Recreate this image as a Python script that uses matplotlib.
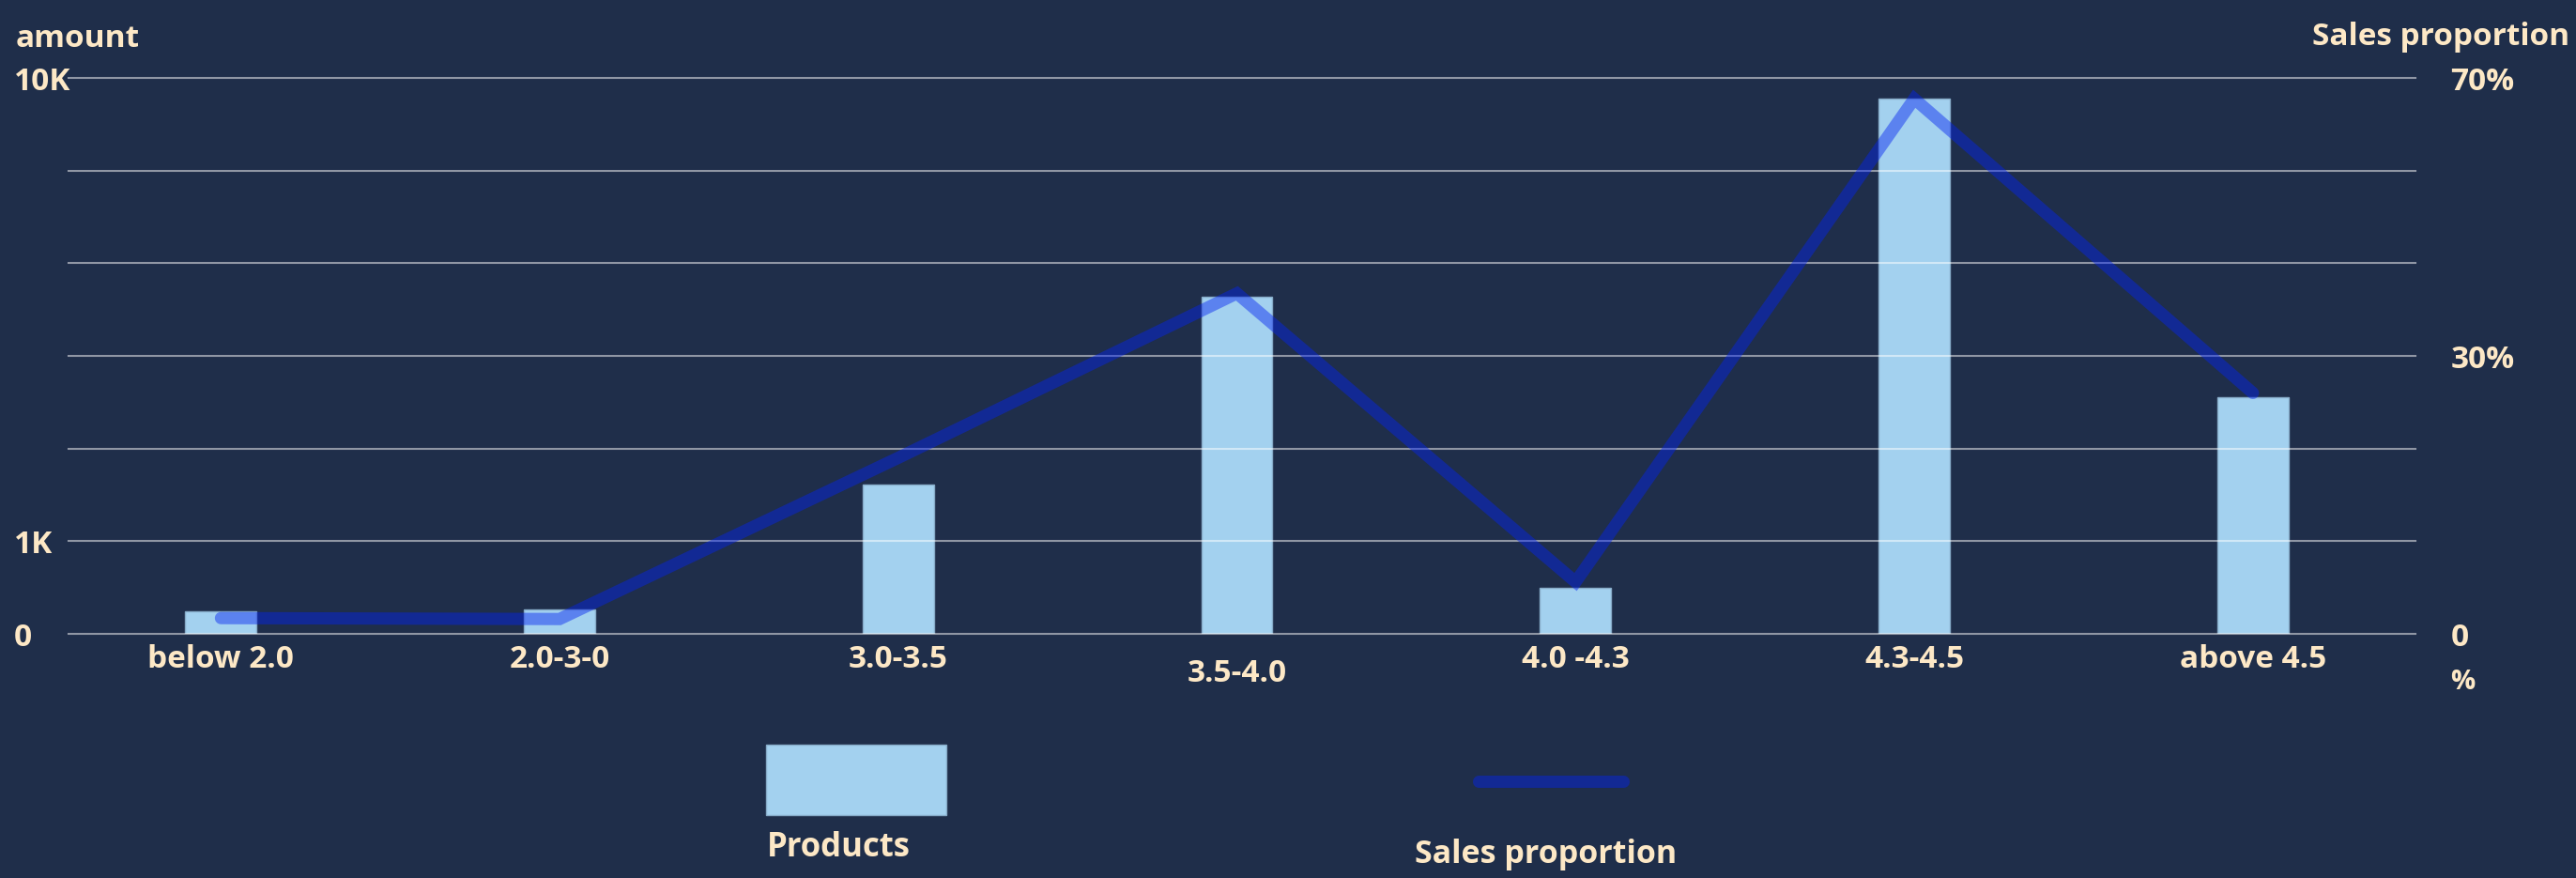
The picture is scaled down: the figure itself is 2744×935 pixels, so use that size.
import numpy as np
import matplotlib
matplotlib.use("Agg")
import matplotlib.pyplot as plt
from matplotlib.patches import Rectangle
from matplotlib.lines import Line2D

# data
categories = ["below 2.0", "2.0-3-0", "3.0-3.5", "3.5-4.0", "4.0 -4.3", "4.3-4.5", "above 4.5"]
products = [240, 260, 2100, 5750, 500, 9600, 3800]
sales_pct = [1.7, 1.6, 19, 39, 5.6, 67, 26]

left_ticks = [0, 1000, 2800, 4600, 6400, 8200, 10000]
left_labels = ["0", "1K", "", "", "", "", "10K"]
right_ticks = [0, 10, 20, 30, 43.33, 56.67, 70]
right_labels = ["0", "", "", "30%", "", "", "70%"]

bg = "#1f2e4a"
txt = "#fde8c6"
bar_c = "#a3d1ef"
line_c = "#0423f0"

plt.rcParams["font.family"] = ["Open Sans", "DejaVu Sans"]
plt.rcParams["font.weight"] = "bold"

W, H = 2744, 935
fig = plt.figure(figsize=(W / 100, H / 100), dpi=100, facecolor=bg)
ax = fig.add_axes([73 / W, 1 - 675 / H, 2500 / W, 592 / H])
ax.set_facecolor(bg)

# uneven axes: piecewise-linear mapping onto the 6 grid steps
def fwd_l(v):
    return np.interp(v, [0, 1000, 10000], [0, 1, 6])
def inv_l(v):
    return np.interp(v, [0, 1, 6], [0, 1000, 10000])
def fwd_r(v):
    return np.interp(v, [0, 30, 70], [0, 3, 6])
def inv_r(v):
    return np.interp(v, [0, 3, 6], [0, 30, 70])

ax.set_yscale("function", functions=(fwd_l, inv_l))
x = np.arange(len(categories))
ax.bar(x, products, width=0.21, color=bar_c, edgecolor="#86abc8", linewidth=1)
ax.set_xlim(-0.45, 6.48)
ax.set_ylim(0, 10000)
ax.set_yticks(left_ticks)
ax.set_yticklabels(left_labels)
ax.set_xticks(x)
ax.set_xticklabels(categories)
ax.set_axisbelow(False)
ax.grid(axis="y", color="white", alpha=0.5, linewidth=1.5)
for gl in ax.get_ygridlines():
    gl.set_clip_on(False)
ax.tick_params(axis="y", length=0, pad=42, labelsize=24, labelcolor=txt)
ax.tick_params(axis="x", length=0, pad=8, labelsize=24, labelcolor=txt)
for lab in ax.get_yticklabels():
    lab.set_ha("left")
for lab in ax.get_xticklabels():
    if lab.get_text() == "3.5-4.0":
        lab.set_y(-0.025)
for s in ax.spines.values():
    s.set_visible(False)

ax2 = ax.twinx()
ax2.set_yscale("function", functions=(fwd_r, inv_r))
ax2.plot(x, sales_pct, color=line_c, alpha=0.45, linewidth=9.4,
         solid_capstyle="round", solid_joinstyle="miter")
ax2.set_ylim(0, 70)
ax2.set_yticks(right_ticks)
ax2.set_yticklabels(right_labels)
ax2.tick_params(axis="y", length=0, pad=27, labelsize=24, labelcolor=txt)
for s in ax2.spines.values():
    s.set_visible(False)

# axis titles
fig.text(17 / W, 1 - 41 / H, "amount", color=txt, fontsize=24, va="center", ha="left")
fig.text(2737 / W, 1 - 40 / H, "Sales proportion", color=txt, fontsize=24, va="center", ha="right")
fig.text(2610 / W, 1 - 727 / H, "%", color=txt, fontsize=21, va="center", ha="left")

# legend drawn by hand, labels under the keys
fig.patches.append(Rectangle((816 / W, 1 - 868 / H), 192 / W, 75 / H, transform=fig.transFigure,
                             facecolor=bar_c, edgecolor="#86abc8", linewidth=1))
fig.lines.append(Line2D([1575 / W, 1729 / W], [1 - 832 / H, 1 - 832 / H], transform=fig.transFigure,
                        color=line_c, alpha=0.45, linewidth=9.4, solid_capstyle="round"))
fig.text(817 / W, 1 - 912 / H, "Products", color=txt, fontsize=25, va="baseline", ha="left")
fig.text(1507 / W, 1 - 919 / H, "Sales proportion", color=txt, fontsize=24.5, va="baseline", ha="left")

fig.savefig("out.png", dpi=100, facecolor=bg)
